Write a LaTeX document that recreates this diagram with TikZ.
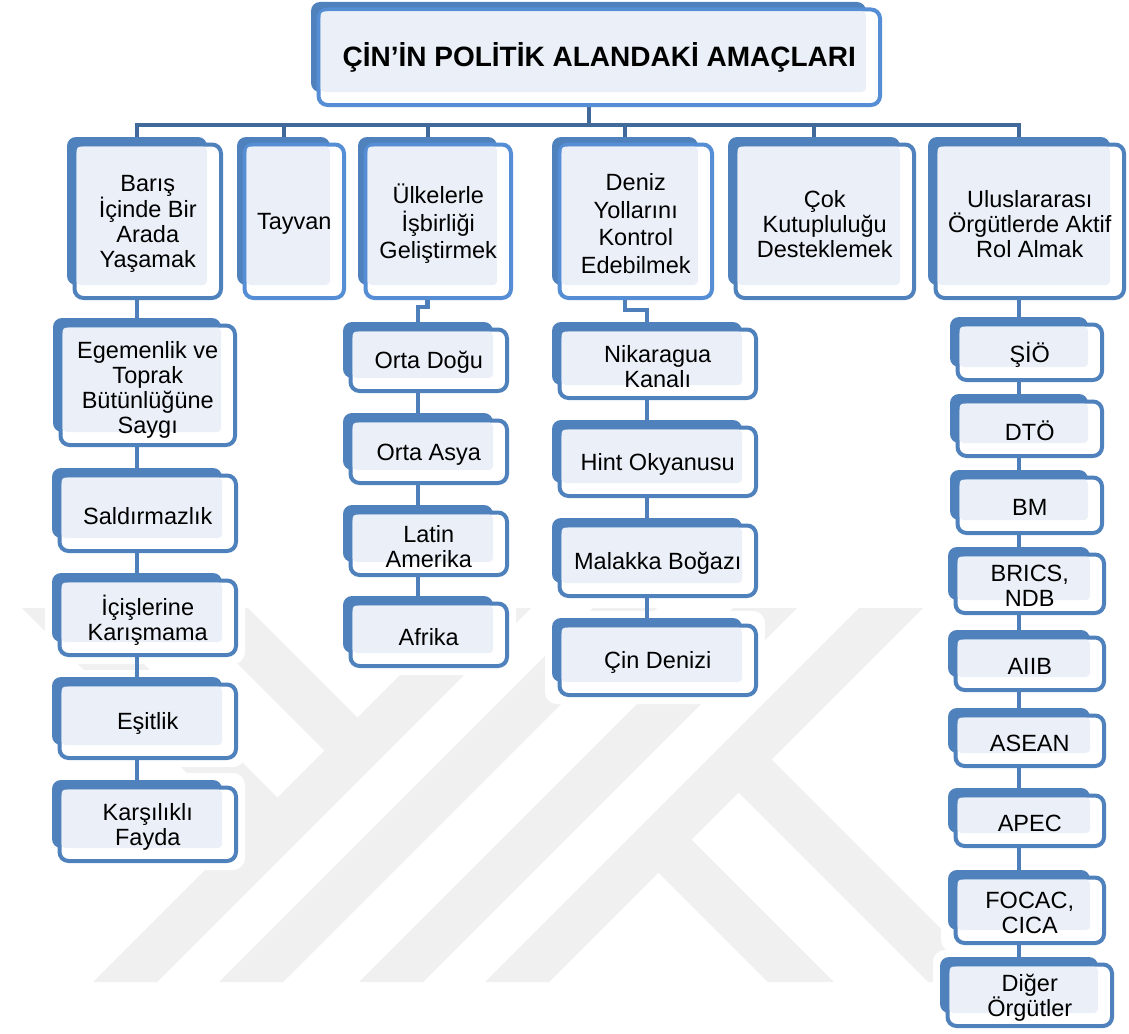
\documentclass[tikz,border=0pt]{standalone}
\usepackage{fontspec}
\setmainfont{Liberation Sans}
\usetikzlibrary{calc}
\definecolor{backblue}{HTML}{4F81BD}
\definecolor{ltline}{HTML}{558ED5}
\definecolor{lfill}{HTML}{EBF0F8}
\definecolor{topc}{HTML}{41699A}
\definecolor{lowc}{HTML}{4F7FBA}
\definecolor{wmgray}{HTML}{F0F0F0}
\pgfdeclarelayer{wm}\pgfdeclarelayer{halo}\pgfdeclarelayer{conn}
\pgfsetlayers{wm,halo,conn,main}
\tikzset{
 backbox/.style={fill=backblue, rounded corners=9pt, inner sep=0pt, outer sep=0pt},
 frontdk/.style={draw=backblue, line width=4pt, fill=white, rounded corners=9pt},
 frontlt/.style={draw=ltline, line width=4pt, fill=white, rounded corners=9pt},
 lightarea/.style={fill=lfill, rounded corners=4pt},
 boxtext/.style={align=center, inner sep=0pt, font=\fontsize{23.5}{25}\selectfont},
 topline/.style={draw=topc, line width=4pt},
 lowline/.style={draw=lowc, line width=4.5pt},
 halofill/.style={fill=white, rounded corners=12pt},
 wmstripe/.style={fill=wmgray},
}
% #1 front style, #2 name, #3..#6 back rectangle (x0,y0,x1,y1), #7 text, #8 extra text shift
\newcommand\mkboxx[8]{%
 \begin{pgfonlayer}{halo}
   \path[halofill] (#3-7,#4-7) rectangle (#5+23,#6+22);
 \end{pgfonlayer}
 \node[backbox, minimum width={(#5-#3)*1pt}, minimum height={(#6-#4)*1pt}] (#2) at ({(#3+#5)/2},{(#4+#6)/2}) {};
 \path[#1] (#3+7.5,#4+7.5) rectangle (#5+14,#6+13);
 \path[lightarea] (#3+9.5,#4+9.5) rectangle (#5,#6);
 \node[boxtext] (#2-t) at ({(#3+#5+21.5)/2},{(#4+#6+20.5)/2+#8}) {#7};
}
\newcommand\mkbox[7][frontdk]{\mkboxx{#1}{#2}{#3}{#4}{#5}{#6}{#7}{2.5}}
\begin{document}
\begin{tikzpicture}[x=1pt,y=-1pt]
\useasboundingbox (0,0) rectangle (1129,1033);
\begin{pgfonlayer}{wm}
\fill[white] (0,0) rectangle (1129,1033);
\fill[wmstripe] (93,982)--(157,982)--(531,608)--(467,608)--cycle;
\fill[wmstripe] (219,982)--(283,982)--(657,608)--(593,608)--cycle;
\fill[wmstripe] (359,982)--(423,982)--(797,608)--(733,608)--cycle;
\fill[wmstripe] (485,982)--(549,982)--(923,608)--(859,608)--cycle;
\fill[wmstripe] (22,608)--(88,608)--(293.5,813.5)--(260.5,846.5)--cycle;
\fill[wmstripe] (182,608)--(248,608)--(373.5,733.5)--(340.5,766.5)--cycle;
\fill[wmstripe] (722.5,776.5)--(755.5,743.5)--(994,982)--(928,982)--cycle;
\fill[wmstripe] (642.5,856.5)--(675.5,823.5)--(834,982)--(768,982)--cycle;
\end{pgfonlayer}

\mkboxx{frontlt}{title}{311}{2}{866}{92}{\bfseries\fontsize{28}{32}\selectfont ÇİN’İN POLİTİK ALANDAKİ AMAÇLARI}{0}
\mkbox{baris}{67}{137}{207}{285}{Barış\\İçinde Bir\\Arada\\Yaşamak}
\mkbox[frontlt]{tayvan}{237}{137}{330}{285}{Tayvan}
\mkbox[frontlt]{ulke}{358}{137}{497}{285}{Ülkelerle\\[2.5pt]İşbirliği\\[2.5pt]Geliştirmek}
\mkbox[frontlt]{deniz}{552}{137}{698}{285}{Deniz\\[2.5pt]Yollarını\\[2.5pt]Kontrol\\[2.5pt]Edebilmek}
\mkbox{cok}{728}{137}{900}{285}{Çok\\Kutupluluğu\\Desteklemek}
\mkbox{ulus}{928}{137}{1110}{285}{Uluslararası\\Örgütlerde Aktif\\Rol Almak}

\mkboxx{frontdk}{egemen}{53}{318}{221}{432}{Egemenlik ve\\Toprak\\Bütünlüğüne\\Saygı}{4.5}
\mkbox{saldir}{52}{468}{222}{538}{Saldırmazlık}
\mkbox{icis}{52}{573}{222}{642}{İçişlerine\\Karışmama}
\mkbox{esit}{52}{677}{222}{745}{Eşitlik}
\mkbox{karsi}{52}{780}{222}{848}{Karşılıklı\\Fayda}

\mkbox{ortadogu}{343}{322}{493}{378}{Orta Doğu}
\mkbox{ortaasya}{343}{413}{493}{470}{Orta Asya}
\mkbox{latin}{343}{505}{493}{562}{Latin\\Amerika}
\mkbox{afrika}{343}{596}{493}{653}{Afrika}

\mkbox{nikaragua}{552}{322}{742}{385}{Nikaragua\\Kanalı}
\mkbox{hint}{552}{420}{742}{483}{Hint Okyanusu}
\mkbox{malakka}{552}{518}{742}{583}{Malakka Boğazı}
\mkbox{cindenizi}{552}{618}{742}{682}{Çin Denizi}

\mkbox{sio}{950}{317}{1088}{367}{ŞİÖ}
\mkbox{dto}{950}{394}{1088}{443}{DTÖ}
\mkbox{bm}{950}{470}{1088}{520}{BM}
\mkbox{brics}{948}{547}{1090}{600}{BRICS,\\NDB}
\mkbox{aiib}{948}{630}{1090}{677}{AIIB}
\mkbox{asean}{948}{708}{1090}{753}{ASEAN}
\mkbox{apec}{948}{788}{1090}{833}{APEC}
\mkbox{focac}{948}{870}{1090}{930}{FOCAC,\\CICA}
\mkbox{diger}{940}{957}{1098}{1013}{Diğer\\Örgütler}

\coordinate (bar) at (0,125);
\begin{pgfonlayer}{conn}
\foreach \c in {baris,tayvan,ulke,deniz,cok,ulus}
  \draw[topline] (title.south) |- (\c.north |- bar) -- (\c.north);
\draw[lowline] (baris.south) -- (egemen.north);
\draw[lowline] (egemen.south) -- (saldir.north);
\draw[lowline] (saldir.south) -- (icis.north);
\draw[lowline] (icis.south) -- (esit.north);
\draw[lowline] (esit.south) -- (karsi.north);
\draw[lowline] (ulke.south) |- ($(ortadogu.north)+(0,-15)$) -- (ortadogu.north);
\draw[lowline] (ortadogu.south) -- (ortaasya.north);
\draw[lowline] (ortaasya.south) -- (latin.north);
\draw[lowline] (latin.south) -- (afrika.north);
\draw[lowline] (deniz.south) |- ($(nikaragua.north)+(0,-12)$) -- (nikaragua.north);
\draw[lowline] (nikaragua.south) -- (hint.north);
\draw[lowline] (hint.south) -- (malakka.north);
\draw[lowline] (malakka.south) -- (cindenizi.north);
\draw[lowline] (ulus.south) -- (sio.north);
\draw[lowline] (sio.south) -- (dto.north);
\draw[lowline] (dto.south) -- (bm.north);
\draw[lowline] (bm.south) -- (brics.north);
\draw[lowline] (brics.south) -- (aiib.north);
\draw[lowline] (aiib.south) -- (asean.north);
\draw[lowline] (asean.south) -- (apec.north);
\draw[lowline] (apec.south) -- (focac.north);
\draw[lowline] (focac.south) -- (diger.north);
\end{pgfonlayer}
\end{tikzpicture}
\end{document}
